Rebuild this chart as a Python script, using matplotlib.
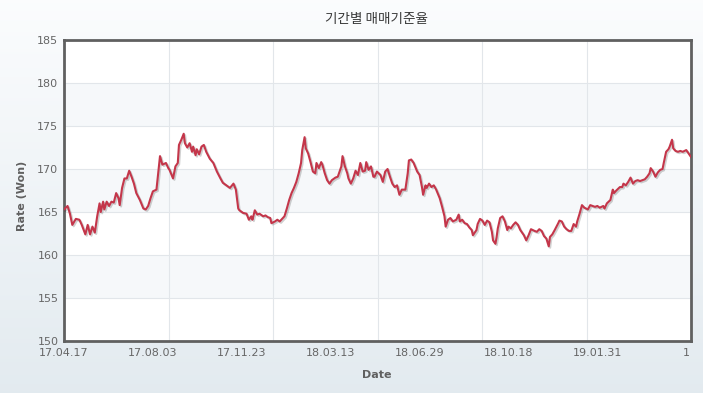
import numpy as np
import matplotlib
matplotlib.use("Agg")
import matplotlib.pyplot as plt
import matplotlib.patheffects as pe

# trading-day index (0 = 17.04.17) and daily base rate (Won)
day = [0, 3, 5, 7, 10, 13, 15, 18, 20, 22, 24, 26, 28, 30, 31, 33, 34, 36, 38, 40,
       42, 44, 46, 47, 49, 51, 53, 55, 57, 59, 61, 64, 67, 69, 71, 73, 75, 78, 81, 83,
       86, 88, 89, 92, 94, 96, 97, 99, 101, 102, 104, 106, 108, 109, 111, 112, 114, 116, 118, 120,
       123, 126, 129, 132, 134, 137, 140, 143, 145, 147, 148, 151, 154, 156, 158, 159, 161, 163, 165, 168,
       170, 172, 174, 175, 178, 180, 182, 184, 186, 188, 190, 192, 194, 196, 198, 200, 201, 203, 204, 206,
       208, 210, 212, 213, 215, 217, 218, 220, 222, 224, 226, 229, 231, 234, 235, 237, 239, 240, 242, 244,
       246, 248, 250, 252, 254, 255, 257, 259, 261, 262, 264, 267, 269, 271, 273, 275, 277, 279, 281, 283,
       285, 288, 290, 291, 293, 295, 298, 300, 302, 303, 305, 306, 308, 310, 312, 314, 317, 319, 321, 322,
       324, 326, 328, 331, 333, 334, 336, 338, 340, 342, 344, 345, 348, 349, 351, 353, 355, 357, 359, 361,
       362, 364, 365, 366, 368, 370, 372, 374, 375, 377, 379, 381, 383, 385, 388, 390, 392, 394, 397, 399,
       401, 403, 405, 407, 409, 410, 412, 414, 417, 418, 420, 422, 424, 426, 428, 430, 432, 433, 435, 437,
       439, 442, 444, 446, 448, 450, 452, 455, 456, 458, 461, 463, 464, 466, 469, 471, 472, 474, 476, 478,
       480, 482, 484, 486, 488, 490, 492, 494, 495, 497, 499, 501, 503, 505, 506, 508, 510, 511, 513, 514,
       516, 518, 520, 522, 525, 527, 529]
rate = [165.3, 165.7, 164.8, 163.5, 164.2, 164.1, 163.5, 162.4, 163.5, 162.4, 163.3, 162.6, 164.5, 166.0, 165.0, 166.2, 165.3, 166.2, 165.7, 166.2,
        166.1, 167.2, 166.6, 165.8, 167.8, 168.9, 168.9, 169.8, 169.1, 168.3, 167.2, 166.4, 165.4, 165.3, 165.7, 166.6, 167.4, 167.6, 171.5, 170.5,
        170.7, 170.1, 169.9, 168.9, 170.3, 170.7, 172.8, 173.4, 174.1, 173.0, 172.5, 173.0, 172.0, 172.6, 171.6, 172.3, 171.7, 172.6, 172.8, 172.0,
        171.2, 170.7, 169.7, 168.9, 168.4, 168.1, 167.8, 168.3, 167.6, 165.4, 165.2, 164.9, 164.8, 164.1, 164.5, 164.1, 165.2, 164.7, 164.8, 164.5,
        164.6, 164.4, 164.3, 163.7, 163.9, 164.1, 163.9, 164.2, 164.5, 165.4, 166.4, 167.2, 167.8, 168.5, 169.5, 170.7, 172.2, 173.7, 172.4, 171.8,
        170.8, 169.7, 169.5, 170.7, 170.1, 170.8, 170.5, 169.5, 168.7, 168.3, 168.7, 169.0, 169.1, 170.3, 171.5, 170.3, 169.5, 168.9, 168.3, 168.9,
        169.8, 169.3, 170.7, 169.7, 169.8, 170.8, 169.9, 170.3, 169.1, 169.1, 169.7, 169.3, 168.5, 169.7, 170.0, 169.1, 168.3, 167.9, 168.1, 167.0,
        167.6, 167.6, 169.5, 171.0, 171.1, 170.7, 169.7, 169.3, 167.9, 167.0, 168.1, 167.8, 168.3, 167.9, 168.1, 167.6, 166.6, 165.6, 164.5, 163.3,
        164.1, 164.3, 163.9, 164.1, 164.7, 163.9, 164.1, 163.7, 163.6, 163.2, 162.9, 162.3, 162.9, 163.6, 164.2, 164.0, 163.5, 164.0, 163.8, 162.7,
        161.7, 161.3, 162.1, 163.1, 164.3, 164.5, 163.9, 162.9, 163.3, 163.1, 163.5, 163.8, 163.5, 162.9, 162.3, 161.7, 162.3, 163.0, 162.8, 162.7,
        163.0, 162.8, 162.2, 161.9, 161.0, 162.1, 162.4, 162.9, 163.7, 164.0, 163.9, 163.3, 163.0, 162.8, 162.8, 163.6, 163.3, 163.9, 164.8, 165.8,
        165.5, 165.3, 165.8, 165.7, 165.6, 165.7, 165.5, 165.7, 165.4, 166.0, 166.4, 167.6, 167.2, 167.5, 167.9, 167.9, 168.3, 168.1, 168.5, 169.0,
        168.3, 168.6, 168.7, 168.6, 168.7, 168.8, 169.1, 169.5, 170.1, 169.7, 169.1, 169.6, 169.9, 170.0, 170.7, 172.0, 172.3, 172.6, 173.4, 172.4,
        172.1, 172.0, 172.1, 172.0, 172.2, 171.8, 171.4]

n_days = 529
label_days = [0, 75, 150, 225, 300, 375, 450, 525]
label_text = ["17.04.17", "17.08.03", "17.11.23", "18.03.13", "18.06.29", "18.10.18", "19.01.31", "1"]
y_ticks = [150, 155, 160, 165, 170, 175, 180, 185]

W, H = 703, 393
fig = plt.figure(figsize=(W / 100, H / 100), dpi=100)

# soft vertical background gradient
bg = fig.add_axes([0, 0, 1, 1])
top = np.array([0.985, 0.99, 0.995])
bot = np.array([0.89, 0.92, 0.94])
t = np.linspace(0, 1, 256)[:, None, None]
bg.imshow(top * (1 - t) + bot * t, aspect="auto", extent=[0, 1, 0, 1])
bg.axis("off")

ax = fig.add_axes([64 / W, (H - 341) / H, 627 / W, 301 / H])
ax.set_facecolor("white")
ax.set_xlim(0, n_days)
ax.set_ylim(y_ticks[0], y_ticks[-1])

for i in range(1, len(y_ticks) - 1, 2):
    ax.axhspan(y_ticks[i], y_ticks[i + 1], color="#f6f8fa", lw=0, zorder=0)
for y in y_ticks[1:-1]:
    ax.axhline(y, color="#e2e6ea", lw=0.8, zorder=1)
for x in np.linspace(0, n_days, 7)[1:-1]:
    ax.axvline(x, color="#e2e6ea", lw=0.8, zorder=1)

ax.plot(day, rate, color="#c4364a", lw=1.5, zorder=3,
        path_effects=[pe.SimpleLineShadow(offset=(1, -1), alpha=0.18), pe.Normal()])

ax.set_yticks(y_ticks)
ax.set_xticks(label_days)
ax.set_xticklabels(label_text)
ax.tick_params(axis="both", length=0, labelsize=8, colors="#666666")
ax.tick_params(axis="y", pad=4)
ax.tick_params(axis="x", pad=5)
for s in ax.spines.values():
    s.set_color("#606060")
    s.set_linewidth(2)

fig.text(377 / W, 1 - 19 / H, "기간별 매매기준율", ha="center", va="center",
         family=["Noto Sans CJK KR", "DejaVu Sans"], fontsize=9.8, color="#3a3a3a")
fig.text(377 / W, 1 - 375 / H, "Date", ha="center", va="center",
         fontsize=8, fontweight="bold", color="#606060")
fig.text(22 / W, 1 - 196 / H, "Rate (Won)", ha="center", va="center", rotation=90,
         fontsize=8, fontweight="bold", color="#606060")

fig.savefig("out.png", dpi=100)
